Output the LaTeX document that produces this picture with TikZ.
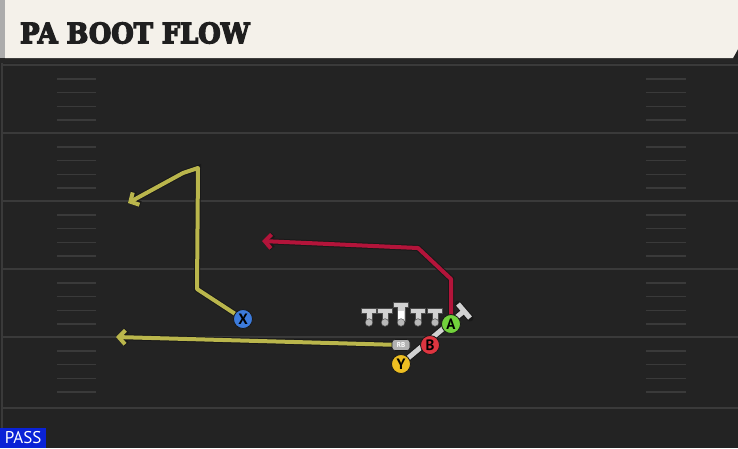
\documentclass[tikz,border=0pt]{standalone}
\usepackage{fontspec}
\usepackage{tikz}
\usetikzlibrary{arrows.meta}
\newfontfamily\titlefont[FakeBold=5]{DejaVu Serif Bold}
\newfontfamily\labelfont{PT Sans}
\definecolor{fieldgrey}{HTML}{232323}
\definecolor{markgrey}{HTML}{3A3A3A}
\definecolor{headcream}{HTML}{F4F1EA}
\definecolor{routeyellow}{HTML}{BAB64C}
\definecolor{routered}{HTML}{B3143A}
\definecolor{passblue}{HTML}{0A22D6}
\definecolor{xblue}{HTML}{3C7BDC}
\definecolor{ayellowgreen}{HTML}{72D23C}
\definecolor{bred}{HTML}{DE3540}
\definecolor{yyellow}{HTML}{EDBE22}
\definecolor{tgrey}{HTML}{D2D2D2}
\def\lineman#1{\filldraw[fill=tgrey, draw=black!70, line width=0.5pt] (#1-7.5,308) -- (#1+7.5,308) -- (#1+7.5,313) -- (#1+3,313) -- (#1+3,321) -- (#1-3,321) -- (#1-3,313) -- (#1-7.5,313) -- cycle;
\filldraw[fill=gray!55, draw=black!70, line width=0.5pt] (#1,322.5) circle (3.8);}

\begin{document}
\begin{tikzpicture}[x=1pt,y=-1pt,
  route/.style={line width=4pt, line join=round, draw=#1, -{Straight Barb[length=6.5pt,width=14pt]},
    preaction={draw=black!90, line width=6pt}},
  player/.style={circle, draw=black!90, line width=0.8pt, fill=#1, minimum size=19pt, inner sep=0pt,
    font=\labelfont\bfseries\fontsize{15}{15}\selectfont},
  yardline/.style={markgrey, line width=2pt}]
\useasboundingbox (0,0) rectangle (738,448);
\fill[fieldgrey] (0,0) rectangle (738,448);
\draw[markgrey, line width=1.5pt] (2,62) -- (2,448);
\foreach \y in {65,133,201,269,337,408}
  \draw[yardline] (2,\y) -- (738,\y);
\foreach \b in {65,133,201,269,337}
  \foreach \k in {1,...,4} {
    \draw[markgrey, line width=1.5pt] (57,\b+\k*13.8) -- (96,\b+\k*13.8);
    \draw[markgrey, line width=1.5pt] (646,\b+\k*13.8) -- (686,\b+\k*13.8);
  }
\fill[black!85] (0,58) rectangle (738,63);
\fill[headcream] (5,0) -- (738,0) -- (738,49) -- (733,58) -- (5,58) -- cycle;
\fill[gray!65] (0,0) rectangle (5,58);
\node (title) at (20,33) [anchor=west, inner sep=0pt, xscale=0.92, text=black!88,
  font=\titlefont\fontsize{28}{28}\selectfont] {PA BOOT FLOW};

\coordinate (x) at (243,319);
\coordinate (a) at (451,324);
\coordinate (b) at (430,345);
\coordinate (y) at (401,364);
\coordinate (rb) at (401,345);
\coordinate (xend) at (128,203);
\coordinate (aend) at (262,241);
\coordinate (rbend) at (116,337);
\coordinate (tbar) at (464,311);

\draw[route=routeyellow] (x) -- (197,289) -- (198,168) -- (183,173) -- (xend);
\draw[route=routered] (a) -- (451,279) -- (418,248) -- (aend);
\draw[route=routeyellow] (rb) -- (rbend);
\draw[line width=7pt, black!90, line cap=round] (y) -- (tbar) (458,304) -- (470,318);
\draw[line width=5pt, tgrey] (y) -- (tbar) (458,304) -- (470,318);

\foreach \p in {369,385,418,435}
  \lineman{\p}
\filldraw[fill=tgrey, draw=black!70, line width=0.5pt] (393.5,302) -- (408.5,302) -- (408.5,307) -- (405,307) -- (405,321) -- (397,321) -- (397,307) -- (393.5,307) -- cycle;
\fill[white] (397.6,311) rectangle (404.4,320.5);
\filldraw[fill=gray!55, draw=black!70, line width=0.5pt] (401,322.5) circle (3.8);

\node (RB) at (rb) [rounded corners=3pt, fill=gray!60, draw=black!90, line width=0.6pt, minimum width=18pt,
  minimum height=11pt, inner sep=0pt, text=white!85, font=\labelfont\bfseries\fontsize{7}{7}\selectfont] {RB};
\node (X) at (x) [player=xblue] {X};
\node (A) at (a) [player=ayellowgreen] {A};
\node (B) at (b) [player=bred] {B};
\node (Y) at (y) [player=yyellow] {Y};

\node (pass) at (0,448) [anchor=south west, fill=passblue, text=white, minimum width=46pt, minimum height=20pt,
  inner sep=0pt, font=\labelfont\fontsize{17}{17}\selectfont] {PASS};
\end{tikzpicture}
\end{document}
